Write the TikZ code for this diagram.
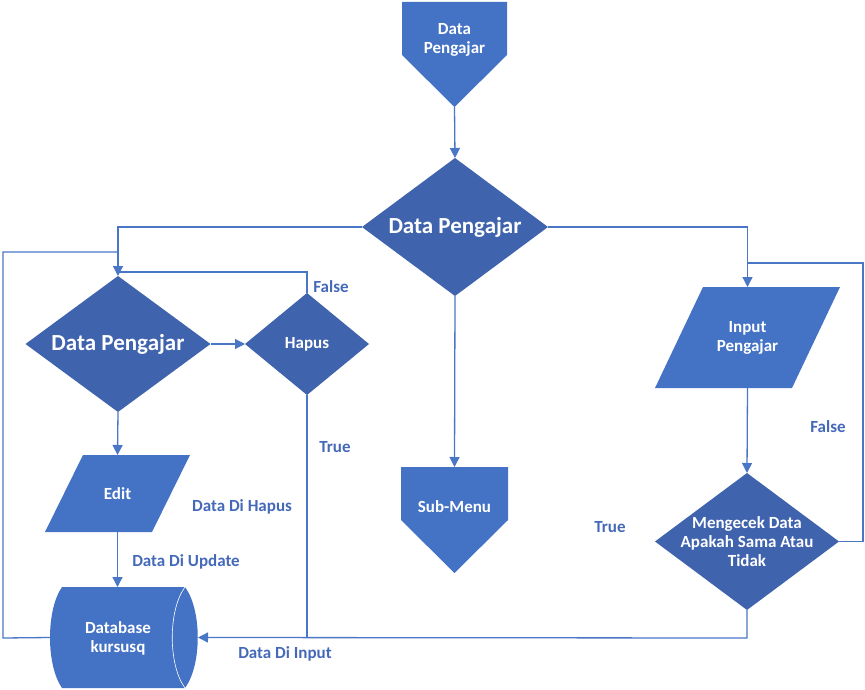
\documentclass[tikz,border=0pt]{standalone}
\usepackage{fontspec}
\setmainfont{Carlito}
\usetikzlibrary{arrows.meta}
\definecolor{dia}{HTML}{3F63AD}
\definecolor{shp}{HTML}{4472C4}
\definecolor{ln}{HTML}{4A76C6}
\definecolor{lbl}{HTML}{4569B9}
\tikzset{
  whitetxt/.style={text=white, font=\bfseries\fontsize{17}{19}\selectfont, align=center, inner sep=0pt},
  box/.style={rectangle, inner sep=0pt, outer sep=0pt, draw=none},
  dmd/.style={box, whitetxt, path picture={\fill[dia] (path picture bounding box.north) -- (path picture bounding box.east) -- (path picture bounding box.south) -- (path picture bounding box.west) -- cycle;}},
  para/.style={box, whitetxt, path picture={\fill[shp] ([xshift=#1]path picture bounding box.north west) -- (path picture bounding box.north east) -- ([xshift=-#1]path picture bounding box.south east) -- (path picture bounding box.south west) -- cycle;}},
  offpage/.style={box, path picture={\fill[shp] (path picture bounding box.north west) -- (path picture bounding box.north east) -- ([yshift=#1]path picture bounding box.south east) -- (path picture bounding box.south) -- ([yshift=#1]path picture bounding box.south west) -- cycle;}},
  bigtxt/.style={font=\bfseries\fontsize{23}{25}\selectfont},
  conn/.style={draw=ln, line width=1.3pt},
  arr/.style={conn, -{Triangle[length=10pt,width=10pt]}},
  lab/.style={text=lbl, font=\bfseries\fontsize{17}{19}\selectfont, inner sep=0pt}
}
\begin{document}
\begin{tikzpicture}[x=1pt,y=-1pt]
\useasboundingbox (0,0) rectangle (865,690);
% database (horizontal cylinder) drawn directly
\fill[shp] (62,587) .. controls (46,610) and (46,665) .. (62,688) -- (185,688) .. controls (202,665) and (202,610) .. (185,587) -- cycle;
\draw[white, line width=0.6pt] (185,587) .. controls (168,610) and (168,665) .. (185,688);

% nodes
\node[offpage=52pt, minimum width=105pt, minimum height=105pt] (top) at (454.5,54.5) {};
\node[whitetxt] (toptext) at (454.5,40) {Data\\Pengajar};
\node[dmd, bigtxt, minimum width=186pt, minimum height=138pt] (main) at (455,227) {Data Pengajar};
\node[dmd, bigtxt, minimum width=185pt, minimum height=136pt] (L) at (118,344) {Data Pengajar};
\node[dmd, minimum width=124pt, minimum height=102pt] (H) at (307,344) {Hapus};
\node[para=38pt, minimum width=145pt, minimum height=77pt] (edit) at (117.5,493.5) {Edit};
\node[box, minimum width=148pt, minimum height=101pt] (db) at (124,637.5) {};
\node[whitetxt] (dbtext) at (118,638) {Database\\kursusq};
\node[offpage=53pt, minimum width=107pt, minimum height=106pt] (sub) at (454.5,520) {};
\node[whitetxt] (subtext) at (454.5,507) {Sub-Menu};
\node[para=48pt, minimum width=185pt, minimum height=101pt] (inp) at (747.5,337.5) {Input\\Pengajar};
\node[dmd, minimum width=184pt, minimum height=137pt] (chk) at (747,541.5) {Mengecek Data\\Apakah Sama Atau\\Tidak};

% helper coordinates
\coordinate (hfalse) at (307,272);
\coordinate (ljoin) at (118,272);
\coordinate (hbot) at (307,638);
\coordinate (lout1) at (3,638);
\coordinate (lout2) at (3,252);
\coordinate (lout3) at (118,252);
\coordinate (cbot) at (747,638);
\coordinate (rout1) at (863,541.5);
\coordinate (rout2) at (863,263);
\coordinate (rout3) at (747,263);

% connectors
\draw[arr] (top.south) -- (main.north);
\draw[arr] (main.west) -| (L.north);
\draw[arr] (main.east) -| (inp.north);
\draw[arr] (main.south) -- (sub.north);
\draw[arr] (L.east) -- (H.west);
\draw[conn] (H.north) -- (hfalse) -- (ljoin);
\draw[conn] (H.south) -- (hbot);
\draw[arr] (L.south) -- (edit.north);
\draw[arr] (edit.south) -- (edit.south |- db.north);
\draw[conn] (db.west) -- (lout1) -- (lout2) -- (lout3);
\draw[arr] (chk.south) -- (cbot) -- (db.east);
\draw[arr] (inp.south) -- (chk.north);
\draw[conn] (chk.east) -- (rout1) -- (rout2) -- (rout3);

% labels
\node[lab] (lf1) at (331,287) {False};
\node[lab] (lt1) at (335,447) {True};
\node[lab] (lhap) at (242,507) {Data Di Hapus};
\node[lab] (lupd) at (186,562) {Data Di Update};
\node[lab] (linp) at (285,654) {Data Di Input};
\node[lab] (lt2) at (610,527) {True};
\node[lab] (lf2) at (828,427) {False};
\end{tikzpicture}
\end{document}
